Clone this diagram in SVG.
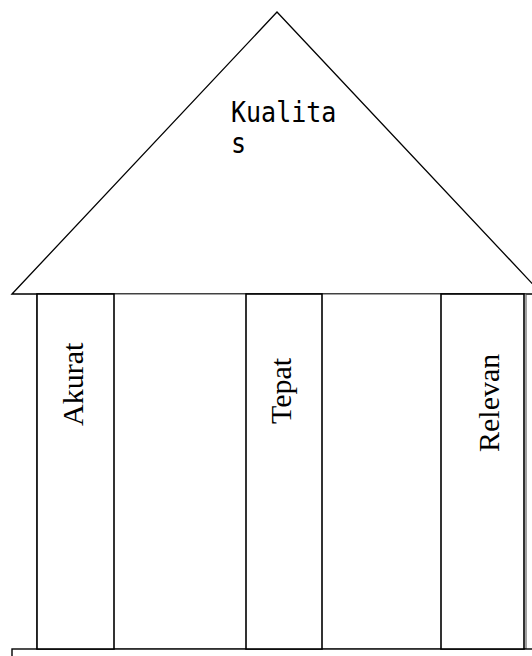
<svg xmlns="http://www.w3.org/2000/svg" width="532" height="656" viewBox="0 0 532 656">
  <style>
    .roof { fill: #fff; stroke: #000; stroke-width: 1.3; }
    .body { fill: #fff; stroke: #444; stroke-width: 1; }
    .pillar { fill: #fff; stroke: #000; stroke-width: 1.6; }
    .base { fill: #fff; stroke: #000; stroke-width: 1.4; }
    .mono { font-family: "DejaVu Sans Mono", "Liberation Mono", monospace; font-size: 25px; fill: #000; }
    .serif { font-family: "Liberation Serif", "Times New Roman", serif; font-size: 30px; fill: #000; }
  </style>

  <!-- roof -->
  <g id="roof">
    <polygon class="roof" points="12,294 277,12 542,294"/>
    <text class="mono" transform="translate(231,122) scale(1,1.1)">Kualita</text>
    <text class="mono" transform="translate(231,153) scale(1,1.1)">s</text>
  </g>

  <!-- wall behind the pillars -->
  <g id="body">
    <rect class="body" x="37" y="294" width="489" height="355"/>
  </g>

  <!-- foundation -->
  <g id="foundation">
    <rect class="base" x="12" y="649" width="540" height="20"/>
  </g>

  <!-- pillars -->
  <g id="pillar-akurat">
    <rect class="pillar" x="37" y="294" width="77" height="355"/>
    <text class="serif" transform="translate(83,426) rotate(-90)">Akurat</text>
  </g>
  <g id="pillar-tepat">
    <rect class="pillar" x="246" y="294" width="76" height="355"/>
    <text class="serif" transform="translate(291,424) rotate(-90)">Tepat</text>
  </g>
  <g id="pillar-relevan">
    <rect class="pillar" x="441" y="294" width="83" height="355"/>
    <text class="serif" transform="translate(499,452) rotate(-90)">Relevan</text>
  </g>

  <g id="connectors"></g>
</svg>
